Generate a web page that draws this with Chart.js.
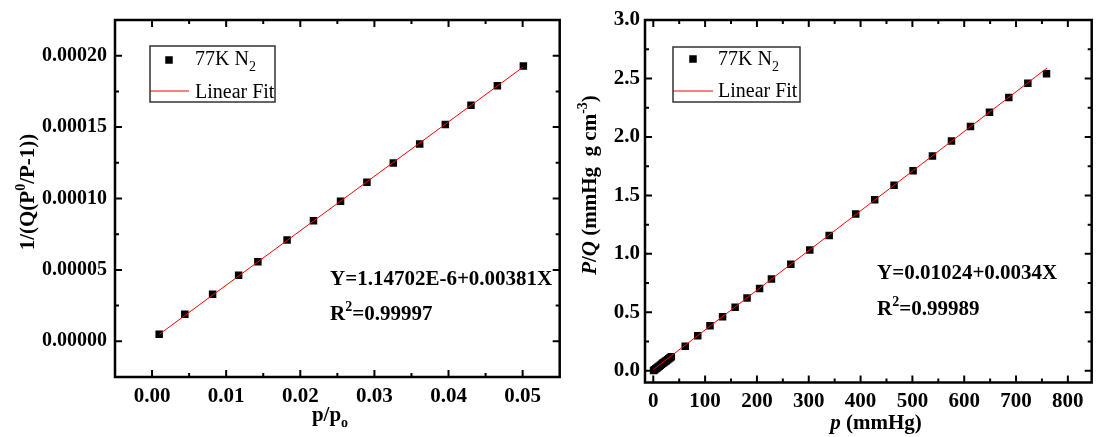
<!DOCTYPE html>
<html>
<head>
<meta charset="utf-8">
<script src="https://cdn.jsdelivr.net/npm/chart.js@4/dist/chart.umd.min.js"></script>
<style>
  body { margin: 0; background: #fff; width: 1097px; height: 437px; overflow: hidden; position: relative; }
  canvas { position: absolute; top: 0; }
  #left-chart { left: 0; }
  #right-chart { left: 565px; }
</style>
</head>
<body>
<canvas id="left-chart" width="565" height="437"></canvas>
<canvas id="right-chart" width="532" height="437"></canvas>
<script>
// Left panel: BET plot, 1/(Q(P0/P-1)) vs p/p0
const leftX = [0.00096, 0.00442, 0.00817, 0.01168, 0.01428, 0.01822, 0.02178, 0.02543,
  0.02899, 0.03255, 0.03611, 0.03957, 0.04303, 0.04659, 0.0501];
const leftY = [0.0000049, 0.0000189, 0.0000329, 0.0000462, 0.0000557, 0.0000709, 0.0000844,
  0.0000981, 0.0001114, 0.0001249, 0.0001382, 0.0001518, 0.0001653, 0.0001790, 0.0001928];
const leftFitX = [0.001, 0.0501];
const leftFitY = [0.0000050, 0.0001922];
const leftXTicks = [0, 0.01, 0.02, 0.03, 0.04, 0.05];
const leftYTicks = [0, 0.00005, 0.0001, 0.00015, 0.0002];

// Right panel: Langmuir plot, P/Q vs p
const rightX = [0.5, 2.6, 4.8, 7.0, 9.2, 11.4, 13.6, 15.9, 18.2, 20.5, 22.8, 25.1, 27.5, 29.9,
  32.3, 34.8, 61.6, 85.8, 109.4, 133.7, 157.9, 180.9, 205.1, 228.0, 265.4, 302.0, 339.4, 390.6,
  427.3, 464.6, 501.3, 538.7, 575.4, 612.1, 648.8, 686.1, 722.8, 758.8];
const rightY = [0.003, 0.010, 0.018, 0.025, 0.033, 0.040, 0.048, 0.056, 0.064, 0.072, 0.080,
  0.087, 0.095, 0.103, 0.111, 0.120, 0.211, 0.300, 0.386, 0.463, 0.543, 0.623, 0.703, 0.786,
  0.911, 1.034, 1.157, 1.340, 1.463, 1.586, 1.711, 1.837, 1.966, 2.089, 2.211, 2.337, 2.460, 2.540];
const rightFitX = [0, 760];
const rightFitY = [0.0102, 2.59];
const rightXTicks = [0, 100, 200, 300, 400, 500, 600, 700, 800];
const rightYTicks = [0, 0.5, 1.0, 1.5, 2.0, 2.5, 3.0];

const FONT = '"Liberation Serif", "Times New Roman", serif';

function toPoints(xs, ys) {
  return xs.map((x, i) => ({ x: x, y: ys[i] }));
}

// midpoints between major ticks, used for the small inner ticks
function minorsOf(ticks) {
  const out = [];
  const step = ticks[1] - ticks[0];
  for (let i = 0; i < ticks.length; i++) {
    out.push(ticks[i] - step / 2);
    if (i === ticks.length - 1) out.push(ticks[i] + step / 2);
  }
  return out;
}

// draws text made of pieces: normal, italic, superscript, subscript
function drawRich(ctx, parts, x, y, size, weight, align) {
  const fontFor = p => (p.italic ? 'italic ' : '') + weight + ' ' +
    Math.round(p.sup || p.sub ? size * 0.68 : size) + 'px ' + FONT;
  let w = 0;
  parts.forEach(p => { ctx.font = fontFor(p); w += ctx.measureText(p.t).width; });
  let cx = align === 'center' ? x - w / 2 : x;
  ctx.textAlign = 'left';
  ctx.textBaseline = 'alphabetic';
  parts.forEach(p => {
    ctx.font = fontFor(p);
    const dy = p.sup ? -size * 0.42 : (p.sub ? size * 0.3 : 0);
    ctx.fillText(p.t, cx, y + dy);
    cx += ctx.measureText(p.t).width;
  });
}

// frame, inward ticks, axis titles, legend box and fit text
const framePlugin = {
  id: 'frame',
  afterDraw(chart, args, opts) {
    const ctx = chart.ctx;
    const a = chart.chartArea;
    const xs = chart.scales.x, ys = chart.scales.y;
    ctx.save();
    ctx.strokeStyle = '#000';
    ctx.fillStyle = '#000';

    // ticks on all four sides
    ctx.lineWidth = 2;
    const tick = (v, len, isX) => {
      ctx.beginPath();
      if (isX) {
        const p = xs.getPixelForValue(v);
        if (p <= a.left + 1 || p >= a.right - 1) return;
        ctx.moveTo(p, a.bottom); ctx.lineTo(p, a.bottom - len);
        ctx.moveTo(p, a.top); ctx.lineTo(p, a.top + len);
      } else {
        const p = ys.getPixelForValue(v);
        if (p <= a.top + 1 || p >= a.bottom - 1) return;
        ctx.moveTo(a.left, p); ctx.lineTo(a.left + len, p);
        ctx.moveTo(a.right, p); ctx.lineTo(a.right - len, p);
      }
      ctx.stroke();
    };
    opts.xTicks.forEach(v => tick(v, 7, true));
    minorsOf(opts.xTicks).forEach(v => tick(v, 4, true));
    opts.yTicks.forEach(v => tick(v, 7, false));
    minorsOf(opts.yTicks).forEach(v => tick(v, 4, false));

    ctx.lineWidth = 2.5;
    ctx.strokeRect(a.left, a.top, a.right - a.left, a.bottom - a.top);

    // axis titles
    drawRich(ctx, opts.xTitle, opts.xTitlePos[0], opts.xTitlePos[1], 21, 'bold', 'center');
    ctx.save();
    ctx.translate(opts.yTitlePos[0], opts.yTitlePos[1]);
    ctx.rotate(-Math.PI / 2);
    drawRich(ctx, opts.yTitle, 0, 0, 21, 'bold', 'center');
    ctx.restore();

    // legend
    const lg = opts.legend;
    ctx.fillStyle = '#000';
    const s = 7.5;
    ctx.fillRect(lg.marker[0] - s / 2, lg.marker[1] - s / 2, s, s);
    drawRich(ctx, [{ t: '77K N' }, { t: '2', sub: true }], lg.textX, lg.base1, 20, 'normal', 'left');
    drawRich(ctx, [{ t: 'Linear Fit' }], lg.textX, lg.base2, 20, 'normal', 'left');
    ctx.strokeStyle = '#f05a5a';
    ctx.lineWidth = 1.5;
    ctx.beginPath();
    ctx.moveTo(lg.line[0], lg.line[2]);
    ctx.lineTo(lg.line[1], lg.line[2]);
    ctx.stroke();
    ctx.strokeStyle = '#333';
    ctx.lineWidth = 1.5;
    ctx.strokeRect(lg.box[0], lg.box[1], lg.box[2] - lg.box[0], lg.box[3] - lg.box[1]);

    // fit equation
    ctx.fillStyle = '#000';
    drawRich(ctx, [{ t: opts.fitText }], opts.fitPos[0], opts.fitPos[1], 21, 'bold', 'left');
    drawRich(ctx, [{ t: 'R' }, { t: '2', sup: true }, { t: opts.r2Text }],
      opts.fitPos[0], opts.fitPos[2], 21, 'bold', 'left');
    ctx.restore();
  }
};

function makeChart(canvas, cfg) {
  return new Chart(canvas, {
    type: 'scatter',
    data: {
      datasets: [
        {
          label: 'Linear Fit',
          data: toPoints(cfg.fitX, cfg.fitY),
          showLine: true,
          borderColor: '#ff0000',
          borderWidth: 1,
          pointRadius: 0,
          order: 0,
        },
        {
          label: '77K N2',
          data: toPoints(cfg.x, cfg.y),
          pointStyle: 'rect',
          pointRadius: 5.3,
          backgroundColor: '#000',
          borderColor: '#000',
          borderWidth: 0,
          order: 1,
        },
      ],
    },
    options: {
      responsive: false,
      animation: false,
      devicePixelRatio: 1,
      layout: { padding: { top: 20, right: cfg.padRight, left: 0, bottom: 0 } },
      plugins: {
        legend: { display: false },
        tooltip: { enabled: false },
        frame: cfg.frame,
      },
      scales: {
        x: {
          type: 'linear',
          min: cfg.xMin,
          max: cfg.xMax,
          grid: { display: false, drawTicks: false },
          border: { display: false },
          afterBuildTicks: s => { s.ticks = cfg.frame.xTicks.map(v => ({ value: v })); },
          afterFit: s => { s.height = cfg.xHeight; },
          ticks: {
            padding: cfg.xPad,
            color: '#000',
            maxRotation: 0,
            font: { family: FONT, size: 21, weight: 'bold' },
            callback: cfg.xFmt,
          },
        },
        y: {
          type: 'linear',
          min: cfg.yMin,
          max: cfg.yMax,
          grid: { display: false, drawTicks: false },
          border: { display: false },
          afterBuildTicks: s => { s.ticks = cfg.frame.yTicks.map(v => ({ value: v })); },
          afterFit: s => { s.width = cfg.yWidth; },
          ticks: {
            padding: cfg.yPad,
            color: '#000',
            font: { family: FONT, size: cfg.yFont, weight: 'bold' },
            callback: cfg.yFmt,
          },
        },
      },
    },
    plugins: [framePlugin],
  });
}

makeChart(document.getElementById('left-chart'), {
  x: leftX, y: leftY, fitX: leftFitX, fitY: leftFitY,
  xMin: -0.005, xMax: 0.055, yMin: -0.000025, yMax: 0.000225,
  padRight: 3, xHeight: 60, yWidth: 115, xPad: 7, yPad: 8, yFont: 20,
  xFmt: v => v.toFixed(2),
  yFmt: v => v.toFixed(5),
  frame: {
    xTicks: leftXTicks,
    yTicks: leftYTicks,
    xTitle: [{ t: 'p/p' }, { t: 'o', sub: true }],
    xTitlePos: [330, 421],
    yTitle: [{ t: '1/(Q(P' }, { t: '0', sup: true }, { t: '/P-1))' }],
    yTitlePos: [34, 192],
    legend: { box: [150, 46, 275, 102], marker: [169, 60], textX: 195, base1: 65, base2: 98, line: [150, 189, 91] },
    fitText: 'Y=1.14702E-6+0.00381X',
    r2Text: '=0.99997',
    fitPos: [330, 285, 320],
  },
});

makeChart(document.getElementById('right-chart'), {
  x: rightX, y: rightY, fitX: rightFitX, fitY: rightFitY,
  xMin: -16, xMax: 846, yMin: -0.1, yMax: 3.0,
  padRight: 1, xHeight: 54.5, yWidth: 80, xPad: 6, yPad: 5, yFont: 21,
  xFmt: v => String(v),
  yFmt: v => v.toFixed(1),
  frame: {
    xTicks: rightXTicks,
    yTicks: rightYTicks,
    xTitle: [{ t: 'p', italic: true }, { t: ' (mmHg)' }],
    xTitlePos: [311, 429],
    yTitle: [{ t: 'P', italic: true }, { t: '/' }, { t: 'Q', italic: true }, { t: ' (mmHg  g cm' }, { t: '-3', sup: true }, { t: ')' }],
    yTitlePos: [31, 185],
    legend: { box: [108, 47, 235, 102], marker: [128, 59], textX: 153, base1: 65, base2: 97, line: [108, 148, 91] },
    fitText: 'Y=0.01024+0.0034X',
    r2Text: '=0.99989',
    fitPos: [312, 279, 315],
  },
});
</script>
</body>
</html>
